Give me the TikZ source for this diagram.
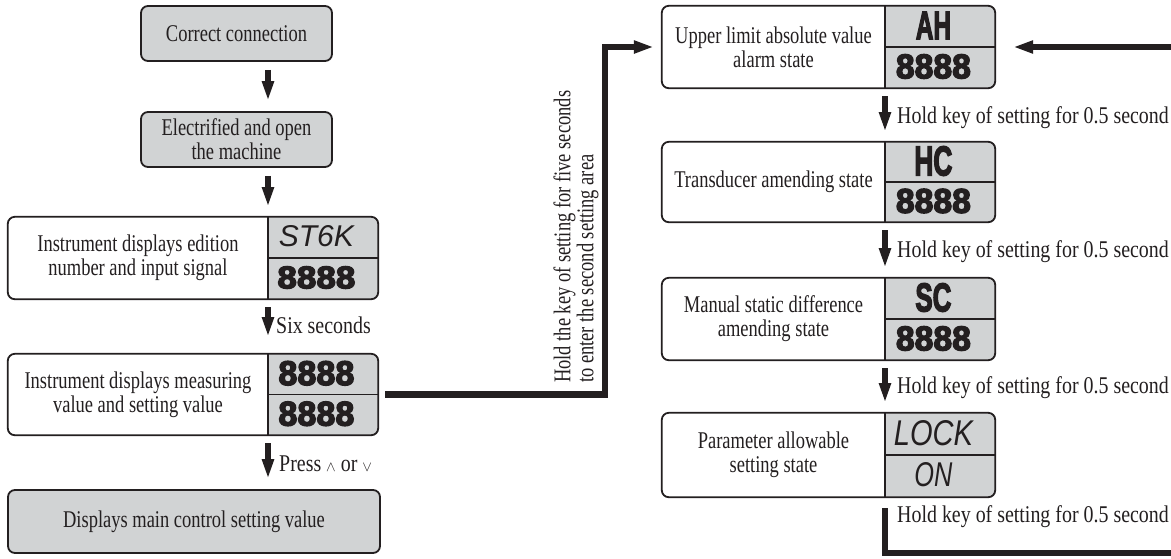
\documentclass[tikz,border=0pt]{standalone}
\usepackage{fontspec}
\setmainfont{Liberation Serif}[FakeStretch=0.77]
\newfontfamily\notefont{Liberation Serif}[FakeStretch=0.83]
\newfontfamily\segfont{Liberation Sans}
\newfontfamily\segheavy{Liberation Sans}[UprightFont={* Bold}, UprightFeatures={FakeBold=4}]
\usetikzlibrary{arrows.meta}
\definecolor{ink}{RGB}{35,31,32}
\definecolor{panel}{RGB}{209,211,212}

% readings shown on the instrument's two-line display
\newcommand\bigread[3]{\resizebox{#1pt}{#2pt}{\segheavy #3}}
\newcommand\thinread[3]{\resizebox{#1pt}{#2pt}{\segfont\itshape #3}}

% state box with caption on the left and a two-cell display on the right
% #1 name, #2 left, #3 split, #4 right, #5 top, #6 bottom,
% #7 caption, #8 upper reading, #9 lower reading
\newcommand\panelbox[9]{%
  \pgfmathsetmacro\pbw{#4-#2}\pgfmathsetmacro\pbh{#6-#5}%
  \pgfmathsetmacro\pbcx{(#2+#4)/2}\pgfmathsetmacro\pbcy{(#5+#6)/2}%
  \pgfmathsetmacro\pbtx{(#2+#3)/2}%
  \pgfmathsetmacro\pbrx{#3+0.44*(#4-#3)}%
  \pgfmathsetmacro\pbuy{(3*#5+#6)/4-1}\pgfmathsetmacro\pbly{(#5+3*#6)/4-1}%
  \node[minimum width=\pbw pt, minimum height=\pbh pt, inner sep=0pt,
        fill=white, rounded corners=7pt] (#1) at (\pbcx,\pbcy) {};
  \begin{scope}
    \clip[rounded corners=7pt] (#1.south west) rectangle (#1.north east);
    \fill[panel] (#3,#5) rectangle (#4,#6);
  \end{scope}
  \coordinate (#1-top) at (#3,#5);
  \coordinate (#1-base) at (#3,#6);
  \draw[ink, line width=1.8pt] (#1-top) -- (#1-base) (#3,\pbcy) -- (#4,\pbcy);
  \draw[frame] (#1.south west) rectangle (#1.north east);
  \node[txt] (#1-cap) at (\pbtx,\pbcy) {#7};
  \node[seg] (#1-hi) at (\pbrx,\pbuy) {#8};
  \node[seg] (#1-lo) at (\pbrx,\pbly) {#9};
}

\tikzset{
  frame/.style={draw=ink, line width=1.8pt, rounded corners=7pt},
  txt/.style={text=ink, font=\fontsize{24}{24}\selectfont, align=center, inner sep=0pt},
  note/.style={text=ink, font=\notefont\fontsize{24}{24}\selectfont, anchor=base west, inner sep=0pt},
  seg/.style={text=ink, inner sep=0pt},
  flow/.style={draw=ink, line width=6pt, shorten <=8pt, shorten >=10pt,
               -{Triangle[length=20pt,width=11pt]}},
  route/.style={draw=ink, line width=6.5pt, line join=miter,
               -{Triangle[length=20pt,width=12pt]}},
}

\begin{document}
\begin{tikzpicture}[x=1pt,y=-1pt]
\useasboundingbox (0,0) rectangle (1171,558);
\clip (0,0) rectangle (1171,558);
\fill[white] (0,0) rectangle (1171,558);

% ---- start-up sequence (left column)
\node[frame, fill=panel, txt, minimum width=191pt, minimum height=55pt]
  (conn) at (236.5,33.5) {Correct connection};
\node[frame, fill=panel, txt, minimum width=191pt, minimum height=55pt]
  (power) at (236.5,139.5) {Electrified and open\\the machine};
\panelbox{inst}{8}{268}{378}{217}{299}{Instrument displays edition\\number and input signal}%
  {\thinread{75}{21}{ST6K}}{\bigread{78}{22}{8888}}
\panelbox{meas}{8}{268}{378}{354}{435}{Instrument displays measuring\\value and setting value}%
  {\bigread{76}{24}{8888}}{\bigread{76}{24}{8888}}
\node[frame, fill=panel, txt, minimum width=372pt, minimum height=63pt]
  (main) at (194,521.5) {Displays main control setting value};

\draw[flow] (conn.south -| inst-top) -- (power.north -| inst-top);
\draw[flow] (power.south -| inst-top) -- (inst-top);
\draw[flow, shorten >=17pt] (inst-base) -- (meas-top);
\node[note] (six) at (276,333) {Six seconds};
\draw[flow] (meas-base) -- (main.north -| meas-base);
\node[note] (press) at (279,471)
  {Press {\fontsize{15}{15}\selectfont$\wedge$} or {\fontsize{15}{15}\selectfont$\vee$}};

% ---- second setting area (right column)
\panelbox{ah}{662}{885}{995}{6}{88}{Upper limit absolute value\\alarm state}%
  {\bigread{35}{27}{AH}}{\bigread{75}{24}{8888}}
\panelbox{hc}{662}{885}{995}{142}{222}{Transducer amending state}%
  {\bigread{38}{29}{HC}}{\bigread{75}{24}{8888}}
\panelbox{sc}{662}{885}{995}{278}{360}{Manual static difference\\amending state}%
  {\bigread{36}{28}{SC}}{\bigread{75}{24}{8888}}
\panelbox{lock}{662}{885}{995}{413}{497}{Parameter allowable\\setting state}%
  {\thinread{79}{25}{LOCK}}{\thinread{38}{24}{ON}}

\draw[flow] (ah-base) -- (hc-top);
\node[note] (k1) at (897,123) {Hold key of setting for 0.5 second};
\draw[flow] (hc-base) -- (sc-top);
\node[note] (k2) at (897,257) {Hold key of setting for 0.5 second};
\draw[flow] (sc-base) -- (lock-top);
\node[note] (k3) at (897,393) {Hold key of setting for 0.5 second};
\node[note] (k4) at (897,522) {Hold key of setting for 0.5 second};

% ---- entry into the second setting area
\coordinate (bend) at (605,0);
\draw[route] ([xshift=7pt]meas.east) -| (bend |- ah.west) -- ([xshift=-8pt]ah.west);
\node[txt, rotate=90, anchor=west, align=left, font=\fontsize{24}{20}\selectfont]
  (hint) at (576,383) {Hold the key of setting for five seconds\\to enter the second setting area};

% ---- loop back from the last state to the first
\coordinate (loopcorner) at (1190,553);
\draw[route, line width=5.5pt] ([yshift=-11pt]lock-base) |- (loopcorner) |- ([xshift=18pt]ah.east);
\end{tikzpicture}
\end{document}
